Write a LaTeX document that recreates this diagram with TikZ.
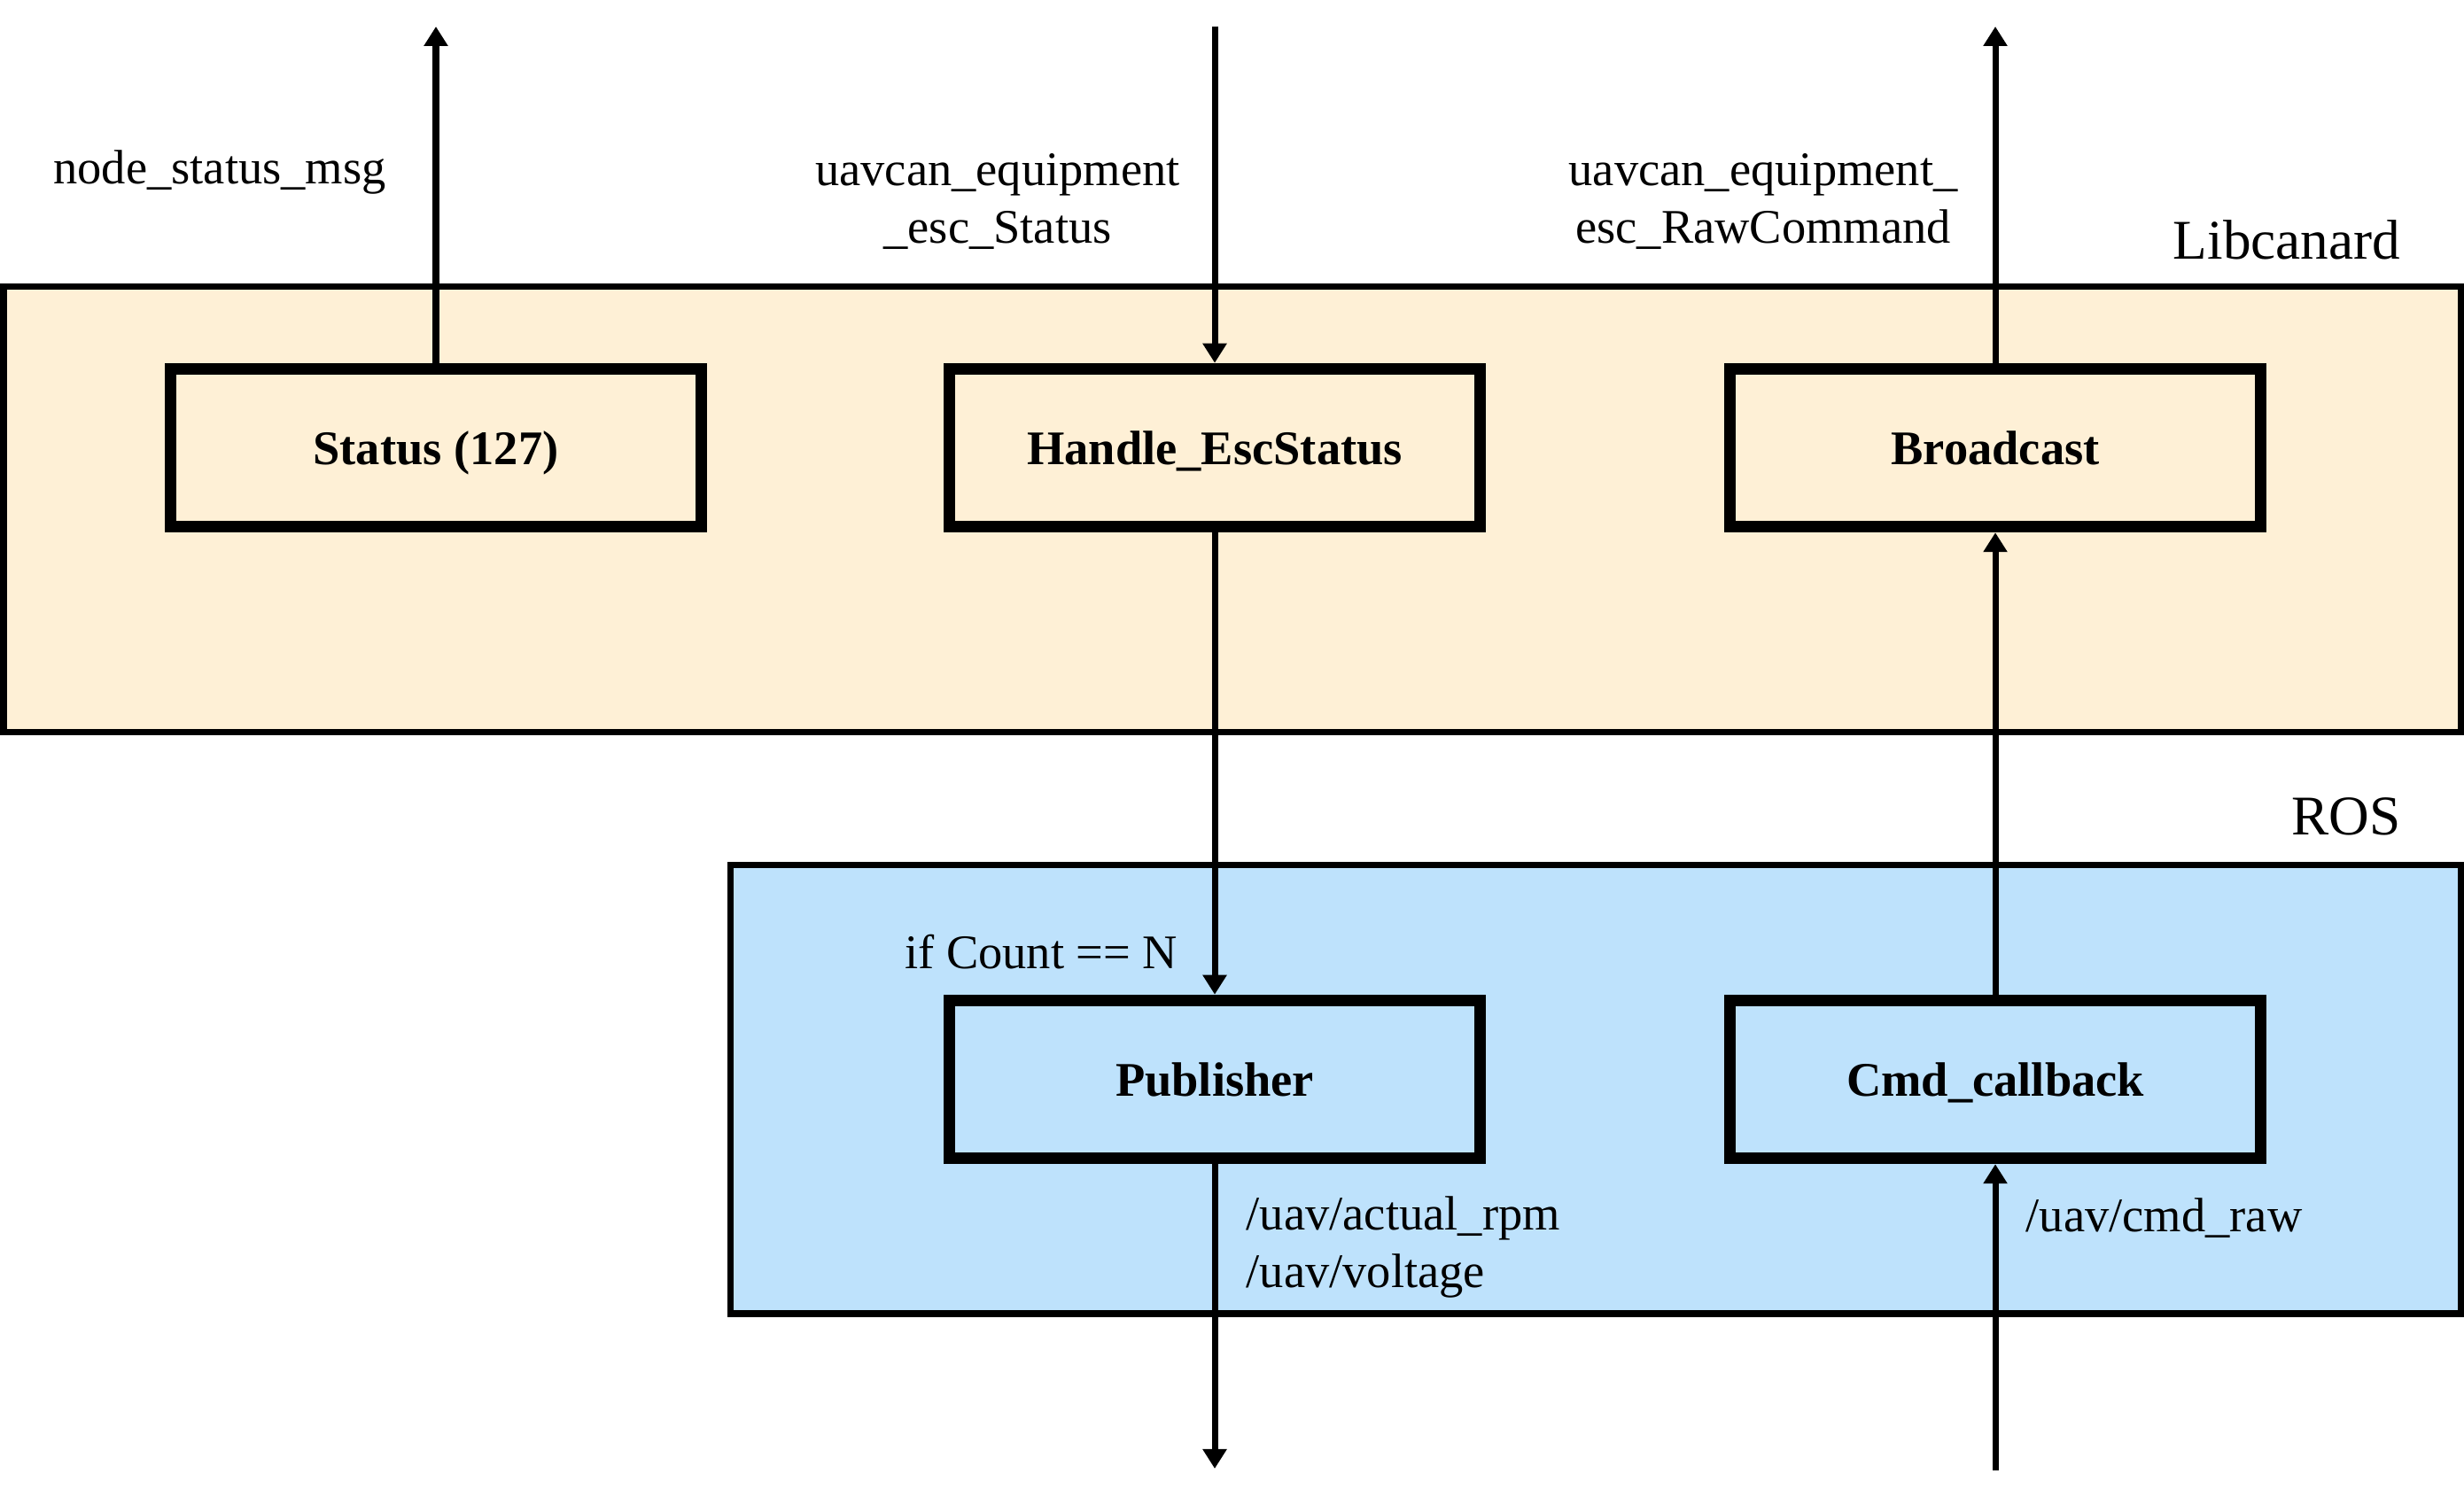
\documentclass[tikz,border=0pt]{standalone}
\usepackage{fontspec}
\setmainfont{Liberation Serif}
\usetikzlibrary{arrows.meta,positioning}

\definecolor{canardfill}{HTML}{FEF0D6}
\definecolor{rosfill}{HTML}{BEE2FC}

\tikzset{
  block/.style={draw, line width=3.7pt, minimum width=5.99cm, minimum height=1.785cm,
    text height=1.08em, text depth=0em,
    font=\fontsize{15.5}{18}\selectfont\bfseries},
  layer/.style={draw, line width=2pt},
  flow/.style={line width=2pt, -{Triangle[length=0.22cm,width=0.26cm]}},
  lbl/.style={font=\fontsize{15.5}{18.5}\selectfont, inner sep=0pt},
  layerlbl/.style={font=\fontsize{18}{21}\selectfont, inner sep=0pt, anchor=east},
}

\begin{document}
\begin{tikzpicture}
	  \useasboundingbox (0,0) rectangle (27.81,16.9);

	  % layers
	  \draw [ layer, fill=canardfill ] (0.04,8.63) rectangle (27.77,13.66);
	  \draw [ layer, fill=rosfill ] (8.24,2.07) rectangle (27.77,7.13);
	  \node [ layerlbl ] (canardname) at (27.10,14.19) {Libcanard};
	  \node [ layerlbl ] (rosname) at (27.10,7.68) {ROS};

	  % blocks
	  \node [ block ] (status) at (4.92,11.845) {Status (127)};
	  \node [ block ] (handle) at (13.71,11.845) {Handle\_EscStatus};
	  \node [ block ] (broadcast) at (22.52,11.845) {Broadcast};
	  \node [ block ] (publisher) at (13.71,4.715) {Publisher};
	  \node [ block ] (callback) at (22.52,4.715) {Cmd\_callback};

	  % free ends
	  \coordinate (statusout) at (4.92,16.6);
	  \coordinate (escin) at (13.71,16.6);
	  \coordinate (rawout) at (22.52,16.6);
	  \coordinate (rpmout) at (13.71,0.32);
	  \coordinate (cmdin) at (22.52,0.3);

	  % connectors
	  \draw [ flow ] (status.north) -- (statusout);
	  \draw [ flow ] (escin) -- (handle.north);
	  \draw [ flow ] (broadcast.north) -- (rawout);
	  \draw [ flow ] (handle.south) -- (publisher.north);
	  \draw [ flow ] (callback.north) -- (broadcast.south);
	  \draw [ flow ] (publisher.south) -- (rpmout);
	  \draw [ flow ] (cmdin) -- (callback.south);

	  % labels
	  \node [ lbl ] (statusmsg) at (2.48,14.95) {node\_status\_msg};
	  \node [ lbl, align=center ] (escmsg) at (11.26,14.625) {uavcan\_equipment\\\_esc\_Status};
	  \node [ lbl, align=center ] (rawmsg) at (19.9,14.625) {uavcan\_equipment\_\\esc\_RawCommand};
	  \node [ lbl, anchor=east ] (countcond) at (13.30,6.15) {if Count == N};
	  \node [ lbl, align=left, anchor=west ] (rpmmsg) at (14.06,2.82) {/uav/actual\_rpm\\/uav/voltage};
	  \node [ lbl, anchor=west ] (cmdmsg) at (22.86,3.15) {/uav/cmd\_raw};

\end{tikzpicture}
\end{document}
